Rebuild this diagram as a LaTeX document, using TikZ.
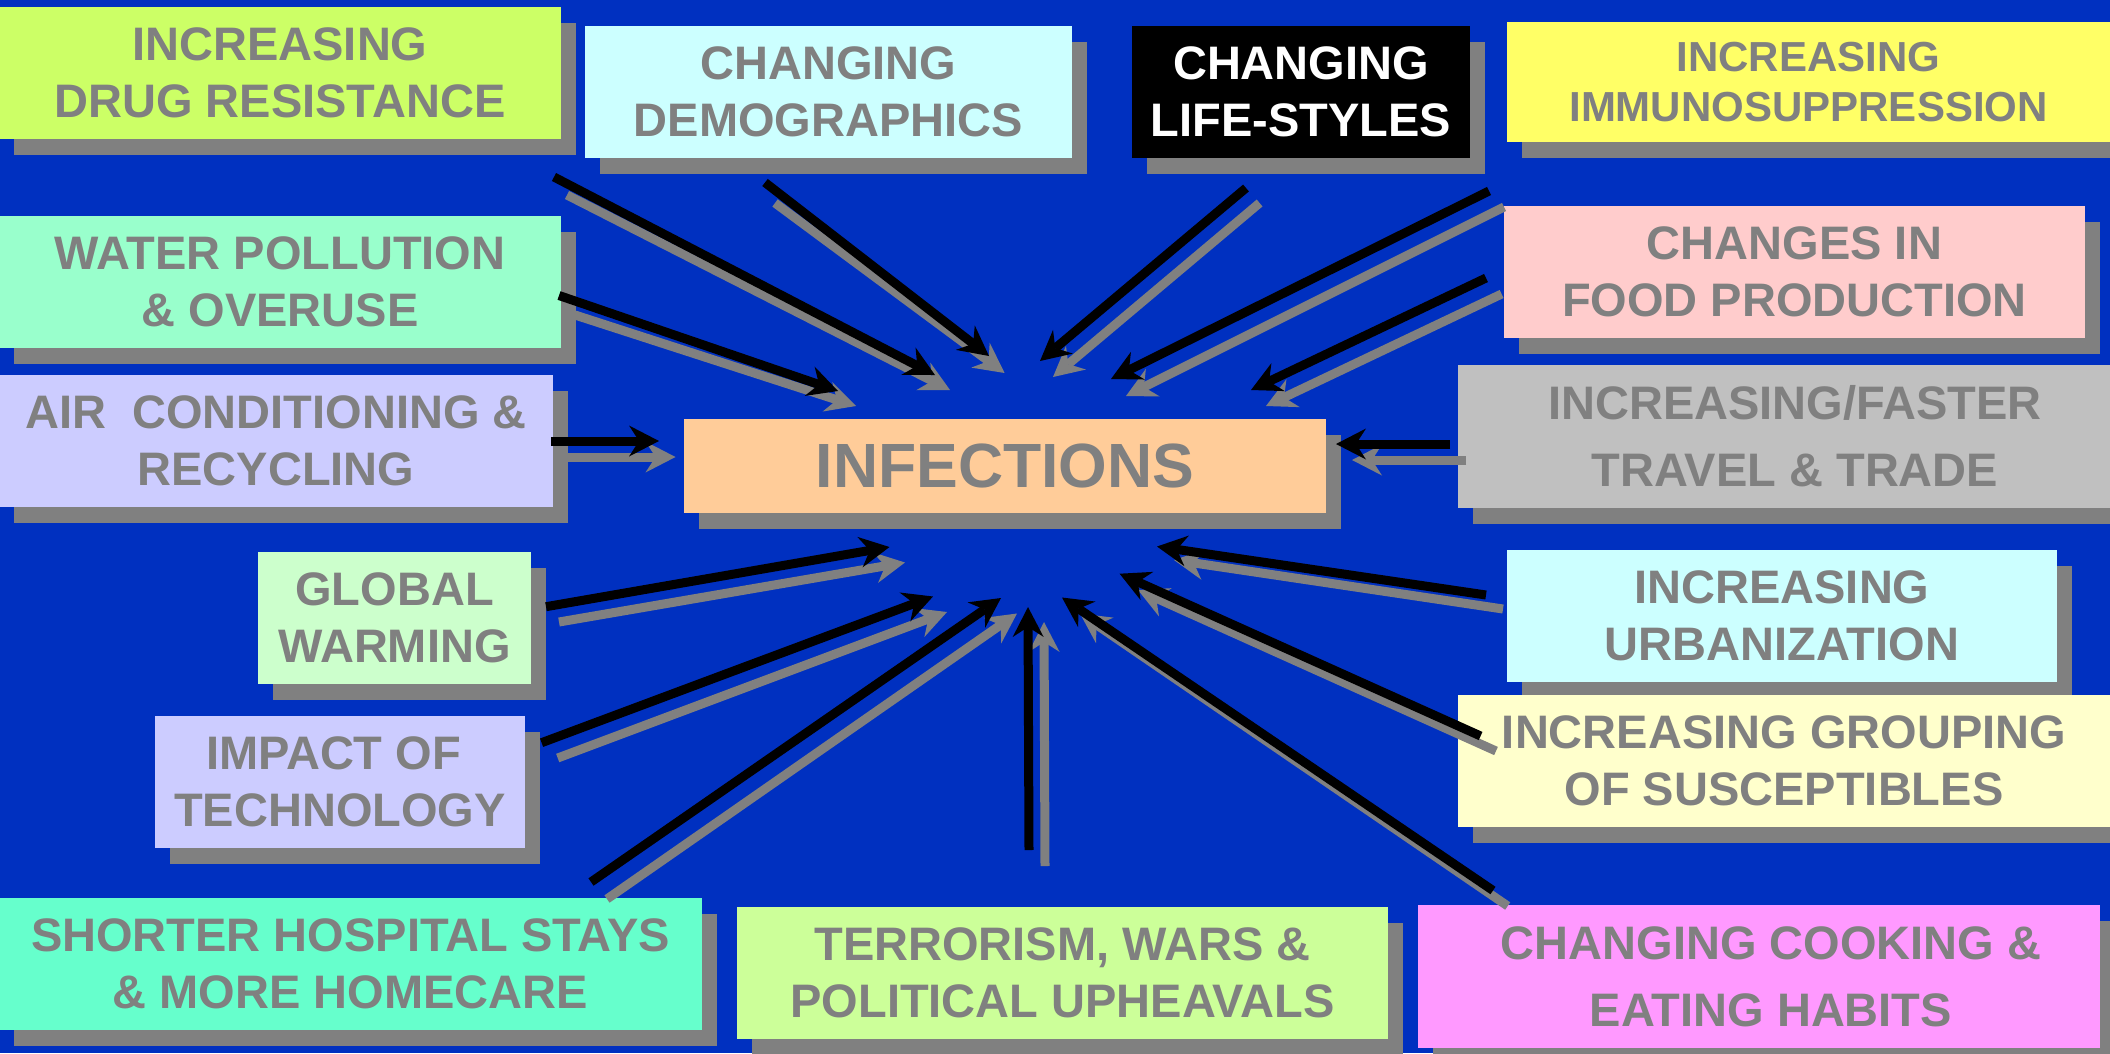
\documentclass[tikz,border=0pt]{standalone}
\usepackage{fontspec}
\setmainfont{Liberation Sans}
\usetikzlibrary{arrows.meta,shadows}

\definecolor{bgblue}{HTML}{0030C0}
\definecolor{txtgray}{HTML}{808080}
\definecolor{shgray}{HTML}{808080}
\definecolor{cDrug}{HTML}{CCFF66}
\definecolor{cDemo}{HTML}{CCFFFF}
\definecolor{cImmuno}{HTML}{FFFF66}
\definecolor{cWater}{HTML}{99FFCC}
\definecolor{cFood}{HTML}{FFCCCC}
\definecolor{cAir}{HTML}{CCCCFF}
\definecolor{cTravel}{HTML}{C0C0C0}
\definecolor{cInfect}{HTML}{FFCC99}
\definecolor{cGlobal}{HTML}{CCFFCC}
\definecolor{cUrban}{HTML}{CCFFFF}
\definecolor{cImpact}{HTML}{CCCCFF}
\definecolor{cGroup}{HTML}{FFFFCC}
\definecolor{cHosp}{HTML}{66FFCC}
\definecolor{cTerror}{HTML}{CCFF99}
\definecolor{cCook}{HTML}{FF99FF}

\begin{document}
\begin{tikzpicture}[x=1pt,y=-1pt,
  factor/.style={rectangle, inner sep=0pt, outer sep=0pt, align=center,
    text=txtgray, font=\bfseries\fontsize{47}{57}\selectfont,
    general shadow={fill=shgray, shadow xshift=15pt, shadow yshift=-16pt}},
  tall/.style={font=\bfseries\fontsize{47}{67}\selectfont},
  blackarrow/.style={draw=black, line width=9pt,
    -{Stealth[length=30pt,width=31pt,inset=10pt,line width=0pt]}},
  greyarrow/.style={draw=shgray, line width=9pt,
    -{Stealth[length=30pt,width=31pt,inset=10pt,line width=0pt]}}]

\useasboundingbox (0,0) rectangle (2110,1053);
\clip (0,0) rectangle (2110,1053);
\fill[bgblue] (0,0) rectangle (2110,1053);

% central box
\node[factor, fill=cInfect, minimum width=642pt, minimum height=94pt,
  font=\bfseries\fontsize{62.5}{70}\selectfont] (inf) at (1005,466) {INFECTIONS};

% surrounding factors
\node[factor, fill=cDrug, minimum width=562pt, minimum height=132pt] (drug) at (280,72.5)
  {INCREASING\\DRUG RESISTANCE};
\node[factor, fill=cDemo, minimum width=487pt, minimum height=132pt] (demo) at (828.5,91.5)
  {CHANGING\\DEMOGRAPHICS};
\node[factor, fill=black, text=white, minimum width=338pt, minimum height=132pt] (life) at (1301,91.5)
  {CHANGING\\LIFE-STYLES};
\node[factor, fill=cImmuno, minimum width=603pt, minimum height=119.5pt,
  font=\bfseries\fontsize{42}{50}\selectfont] (immuno) at (1808.5,81.75)
  {INCREASING\\IMMUNOSUPPRESSION};
\node[factor, fill=cWater, minimum width=562pt, minimum height=132pt] (water) at (280,282)
  {WATER POLLUTION\\\& OVERUSE};
\node[factor, fill=cFood, minimum width=581pt, minimum height=131.5pt] (food) at (1794.5,271.75)
  {CHANGES IN\\FOOD PRODUCTION};
\node[factor, fill=cAir, minimum width=554pt, minimum height=132pt] (air) at (276,441)
  {AIR\ \ CONDITIONING \&\\RECYCLING};
\node[factor, tall, fill=cTravel, minimum width=674pt, minimum height=143pt] (travel) at (1795,436.5)
  {INCREASING/FASTER\\TRAVEL \& TRADE};
\node[factor, fill=cGlobal, minimum width=273pt, minimum height=132pt] (global) at (394.5,618)
  {GLOBAL\\WARMING};
\node[factor, fill=cUrban, minimum width=550pt, minimum height=132pt] (urban) at (1782,616)
  {INCREASING\\URBANIZATION};
\node[factor, fill=cImpact, minimum width=370pt, minimum height=132pt] (impact) at (340,782)
  {IMPACT OF\kern13pt\\TECHNOLOGY};
\node[factor, fill=cGroup, minimum width=652pt, minimum height=132pt] (group) at (1784,761)
  {INCREASING GROUPING\\OF SUSCEPTIBLES};
\node[factor, fill=cHosp, minimum width=703pt, minimum height=132pt] (hosp) at (350.5,964)
  {SHORTER HOSPITAL STAYS\\\& MORE HOMECARE};
\node[factor, fill=cTerror, minimum width=651pt, minimum height=132pt] (terror) at (1062.5,973)
  {TERRORISM, WARS \&\\POLITICAL UPHEAVALS};
\node[factor, tall, fill=cCook, minimum width=682pt, minimum height=143pt] (cook) at (1759,976.5)
  {\hspace*{24pt}CHANGING COOKING \&\\\hspace*{24pt}EATING HABITS};

% arrow ends: black arrows (b) and their grey shadows (g)
\coordinate (drug-b0) at (554,177);    \coordinate (drug-b1) at (935,375);
\coordinate (drug-g0) at (567,195);    \coordinate (drug-g1) at (950,390);
\coordinate (demo-b0) at (765,182.5);  \coordinate (demo-b1) at (989,356);
\coordinate (demo-g0) at (775,203);    \coordinate (demo-g1) at (1004.6,373);
\coordinate (water-b0) at (559,295.5); \coordinate (water-b1) at (838,391);
\coordinate (water-g0) at (575,315);   \coordinate (water-g1) at (856,406);
\coordinate (air-b0) at (551,441);     \coordinate (air-b1) at (659,441);
\coordinate (air-g0) at (568,457);     \coordinate (air-g1) at (675.5,457);
\coordinate (life-b0) at (1246,188);   \coordinate (life-b1) at (1040,361);
\coordinate (life-g0) at (1259.6,203); \coordinate (life-g1) at (1053,377);
\coordinate (immuno-b0) at (1489,191); \coordinate (immuno-b1) at (1111,379);
\coordinate (immuno-g0) at (1504,207); \coordinate (immuno-g1) at (1126,396);
\coordinate (food-b0) at (1486,278);   \coordinate (food-b1) at (1251,390);
\coordinate (food-g0) at (1501.6,294); \coordinate (food-g1) at (1266,406);
\coordinate (travel-b0) at (1450,444); \coordinate (travel-b1) at (1336,444);
\coordinate (travel-g0) at (1466,460); \coordinate (travel-g1) at (1352,460);
\coordinate (global-b0) at (546,606.7);\coordinate (global-b1) at (889.5,547);
\coordinate (global-g0) at (559,622);  \coordinate (global-g1) at (905,562.5);
\coordinate (impact-b0) at (541.6,742.7); \coordinate (impact-b1) at (933,596.5);
\coordinate (impact-g0) at (557.7,758);   \coordinate (impact-g1) at (947,612);
\coordinate (hosp-b0) at (591,882);    \coordinate (hosp-b1) at (1001,598);
\coordinate (hosp-g0) at (607,899);    \coordinate (hosp-g1) at (1017,613.5);
\coordinate (terror-b0) at (1029,850); \coordinate (terror-b1) at (1028,607);
\coordinate (terror-g0) at (1045,866); \coordinate (terror-g1) at (1044,622);
\coordinate (urban-b0) at (1486,595);  \coordinate (urban-b1) at (1157,546.5);
\coordinate (urban-g0) at (1503,609);  \coordinate (urban-g1) at (1174,560);
\coordinate (group-b0) at (1480.6,736);\coordinate (group-b1) at (1119.6,573.7);
\coordinate (group-g0) at (1496,751);  \coordinate (group-g1) at (1138,590);
\coordinate (cook-b0) at (1493,890.5); \coordinate (cook-b1) at (1062,597.5);
\coordinate (cook-g0) at (1507.7,906); \coordinate (cook-g1) at (1080,613.5);

% grey shadows first, then the black arrows over them
\foreach \n in {drug,demo,water,air,life,immuno,food,travel,global,impact,hosp,terror,urban,group,cook}
  \draw[greyarrow] (\n-g0) -- (\n-g1);
\foreach \n in {drug,demo,water,air,life,immuno,food,travel,global,impact,hosp,terror,urban,group,cook}
  \draw[blackarrow] (\n-b0) -- (\n-b1);
\end{tikzpicture}
\end{document}
